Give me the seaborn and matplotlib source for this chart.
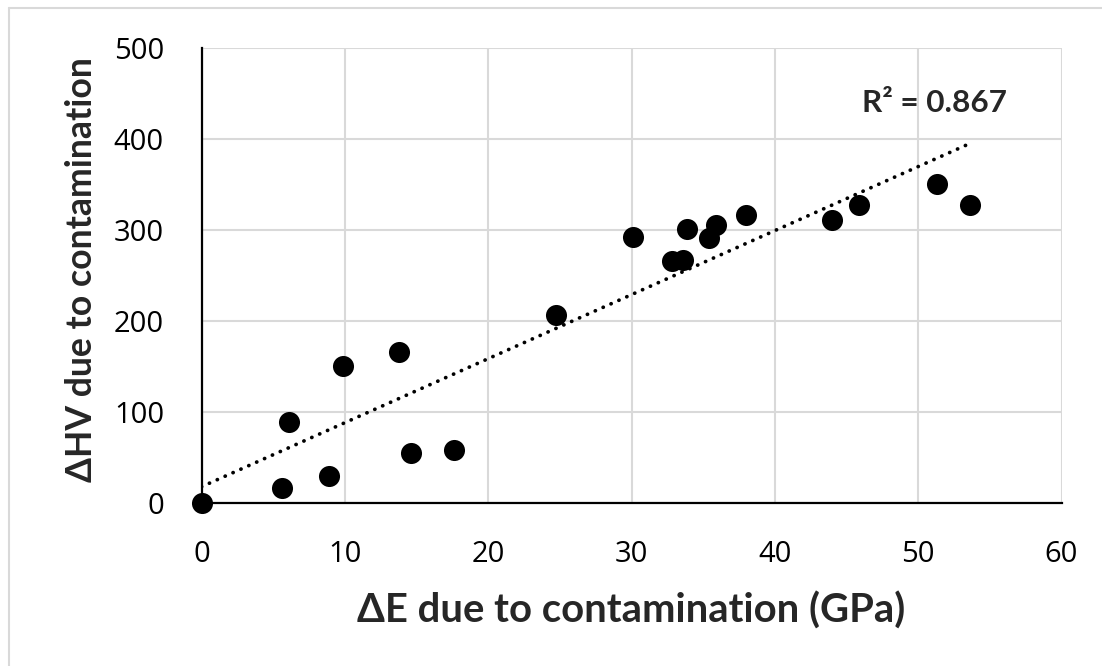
import numpy as np
import pandas as pd
import matplotlib
matplotlib.use("Agg")
import matplotlib.pyplot as plt
import seaborn as sns
from matplotlib.lines import Line2D

# Change in elastic modulus (GPa) and in Vickers hardness due to contamination
delta_e = [0.0, 5.6, 6.1, 8.9, 9.9, 13.8, 14.6, 17.6, 24.7, 30.1,
           32.8, 33.6, 33.9, 35.4, 35.9, 38.0, 44.0, 45.9, 51.3, 53.6]
delta_hv = [0, 17, 89, 30, 150, 166, 55, 58, 206, 292,
            266, 267, 301, 291, 305, 316, 311, 327, 350, 327]
r_squared = 0.867

x_ticks = [0, 10, 20, 30, 40, 50, 60]
y_ticks = [0, 100, 200, 300, 400, 500]

df = pd.DataFrame({"dE": delta_e, "dHV": delta_hv})

sns.set_theme(style="white")
plt.rcParams["font.family"] = ["Open Sans", "DejaVu Sans"]

W, H = 1102, 666
fig = plt.figure(figsize=(W / 100, H / 100), dpi=100)
ax = fig.add_axes([201.5 / W, 1 - 503 / H, (1061.5 - 201.5) / W, (503 - 47.7) / H])

# linear trend line, dotted
sns.regplot(data=df, x="dE", y="dHV", scatter=False, ci=None, truncate=True,
            ax=ax, line_kws=dict(color="black", lw=2.7,
                                 linestyle=(0, (0.05, 2.25)),
                                 dash_capstyle="round"))
sns.scatterplot(data=df, x="dE", y="dHV", ax=ax, s=230, color="black",
                edgecolor="black", linewidth=0, zorder=5, clip_on=False)

ax.set_xlim(0, 60)
ax.set_ylim(0, 500)
ax.set_xticks(x_ticks)
ax.set_yticks(y_ticks)
ax.grid(True, color="#d9d9d9", lw=1.5)
ax.set_axisbelow(True)
for side in ("top", "right"):
    ax.spines[side].set_visible(False)
for side in ("left", "bottom"):
    ax.spines[side].set_color("black")
    ax.spines[side].set_linewidth(1.6)
    ax.spines[side].set_zorder(4)
ax.tick_params(axis="both", length=0, labelsize=21, colors="black", pad=27)

bold = dict(family=["Lato", "DejaVu Sans"], fontweight="bold", fontsize=27)
xl = ax.set_xlabel("ΔE due to contamination (GPa)", **bold)
yl = ax.set_ylabel("ΔHV due to contamination", **bold)
xl.set_va("baseline")
yl.set_va("baseline")
ax.xaxis.set_label_coords((631 - 201.5) / 860, -(623 - 503) / 455.3)
ax.yaxis.set_label_coords((92 - 201.5) / 860, (503 - 270) / 455.3)

r2 = ax.text(46.1, (503 - 112) / 0.9106, f"R² = {r_squared:.3f}",
             ha="left", va="baseline", **bold)

# size the bold texts to their on-page lengths
fig.canvas.draw()
renderer = fig.canvas.get_renderer()
for t, target, vertical in ((xl, 546, False), (yl, 425, True), (r2, 145, False)):
    ext = t.get_window_extent(renderer)
    length = ext.height if vertical else ext.width
    t.set_fontsize(t.get_fontsize() * target / length)

# light chart-area frame
fig.add_artist(Line2D([8.5 / W, 8.5 / W], [0, 1 - 8 / H],
                      transform=fig.transFigure, color="#d9d9d9", lw=1.5))
fig.add_artist(Line2D([8.5 / W, 1], [1 - 8 / H, 1 - 8 / H],
                      transform=fig.transFigure, color="#d9d9d9", lw=1.5))

fig.savefig("out.png", dpi=100)
